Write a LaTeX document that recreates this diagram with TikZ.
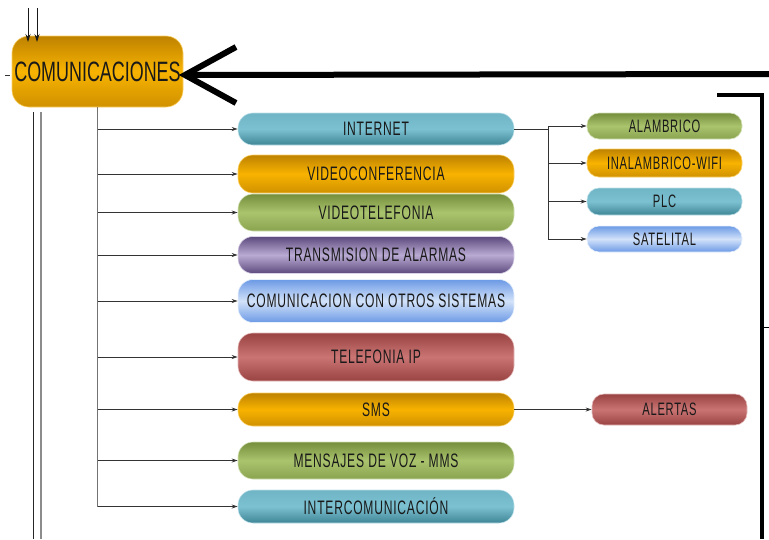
\documentclass[tikz,border=0pt]{standalone}
\usepackage{fontspec}
\newfontfamily\pillfont[FakeStretch=0.62, LetterSpace=4]{Liberation Sans}
\newfontfamily\topicfont[FakeStretch=0.64]{Liberation Sans}
\usetikzlibrary{arrows.meta}

% colour pairs: dark edge / light centre
\definecolor{goldD}{HTML}{BE8200}
\definecolor{goldL}{HTML}{F8B300}
\definecolor{tealD}{HTML}{3E8596}
\definecolor{tealL}{HTML}{7CC1D1}
\definecolor{greenD}{HTML}{748E3C}
\definecolor{greenL}{HTML}{AAC36D}
\definecolor{purpD}{HTML}{5E4A7E}
\definecolor{purpL}{HTML}{B9AAD3}
\definecolor{blueD}{HTML}{6C9AE6}
\definecolor{blueL}{HTML}{D2E2F9}
\definecolor{redD}{HTML}{9A4343}
\definecolor{redL}{HTML}{CA7474}

\tikzset{
  pill/.style={rounded corners=15pt, inner sep=0pt, text=black!90,
    font=\pillfont\fontsize{19.5}{20}\selectfont},
  mainpill/.style={pill, minimum width=276pt},
  subpill/.style={pill, minimum width=155pt, rounded corners=12pt,
    font=\pillfont\fontsize{18}{19}\selectfont},
  goldfill/.style={top color=goldD, bottom color=goldD!70!goldL, middle color=goldL, draw=goldL!60!white, line width=0.6pt},
  tealfill/.style={top color=tealL!80!tealD, bottom color=tealD, middle color=tealL, draw=tealL!50!white, line width=0.6pt},
  greenfill/.style={top color=greenD, bottom color=greenD!60!greenL, middle color=greenL, draw=greenL!50!white, line width=0.6pt},
  purpfill/.style={top color=purpD, bottom color=purpD, middle color=purpL, draw=purpL!50!white, line width=0.6pt},
  bluefill/.style={top color=blueD, bottom color=blueD, middle color=blueL, draw=blueL!50!white, line width=0.6pt},
  redfill/.style={top color=redD, bottom color=redD, middle color=redL, draw=redL!50!white, line width=0.6pt},
  link/.style={draw=black!80, line width=0.8pt},
  feed/.style={link, -{Stealth[length=6pt,width=4pt]}},
  trunkline/.style={draw=black!55, line width=1pt},
  heavy/.style={draw=black, line width=6pt},
}

\begin{document}
\begin{tikzpicture}[x=1pt, y=-1pt]
\useasboundingbox (0,0) rectangle (769,539);

% central topic
\node[pill, rounded corners=17pt, goldfill, minimum width=171pt, minimum height=71pt,
      font=\topicfont\fontsize{28}{30}\selectfont] (com) at (97.5,71.5) {COMUNICACIONES};

% services
\node[mainpill, tealfill,  minimum height=32pt] (int)   at (376,129)   {INTERNET};
\node[mainpill, goldfill,  minimum height=38pt] (vconf) at (376,174)   {VIDEOCONFERENCIA};
\node[mainpill, greenfill, minimum height=37pt] (vtel)  at (376,212.5) {VIDEOTELEFONIA};
\node[mainpill, purpfill,  minimum height=37pt] (alarm) at (376,255)   {TRANSMISION DE ALARMAS};
\node[mainpill, bluefill,  minimum height=43pt] (otros) at (376,301)   {COMUNICACION CON OTROS SISTEMAS};
\node[mainpill, redfill,   minimum height=48pt] (tip)   at (376,357)   {TELEFONIA IP};
\node[mainpill, goldfill,  minimum height=33pt] (sms)   at (376,409.5) {SMS};
\node[mainpill, greenfill, minimum height=37pt] (mms)   at (376,460.5) {MENSAJES DE VOZ - MMS};
\node[mainpill, tealfill,  minimum height=33pt] (icom)  at (376,506.5) {INTERCOMUNICACIÓN};

% internet access types
\node[subpill, greenfill, minimum height=26pt] (alam) at (664.5,126)   {ALAMBRICO};
\node[subpill, goldfill,  minimum height=28pt] (inal) at (664.5,163)   {INALAMBRICO-WIFI};
\node[subpill, tealfill,  minimum height=27pt] (plc)  at (664.5,201.5) {PLC};
\node[subpill, bluefill,  minimum height=26pt] (sat)  at (664.5,239)   {SATELITAL};

% sms follow-up
\node[subpill, redfill, minimum height=31pt] (alert) at (669.5,409.5) {ALERTAS};

% branch tree from the central topic
\draw[trunkline] (com.south) -- (com.south |- icom.west);
\foreach \n in {int,vconf,vtel,alarm,otros,tip,sms,mms,icom}
  \draw[feed] (com.south |- \n.west) -- (\n.west);

% internet split
\coordinate (isplit) at (548,129);
\draw[link] (int.east) -- (isplit);
\draw[link] (isplit |- alam.west) -- (isplit |- sat.west);
\foreach \n in {alam,inal,plc,sat}
  \draw[feed] (isplit |- \n.west) -- (\n.west);

% sms to alerts
\draw[feed] (sms.east) -- (alert.west);

% incoming arrows above the topic
\coordinate (inA) at (28,8);
\coordinate (inB) at (37,8);
\draw[link, draw=black!90, -{Stealth[length=8pt,width=5pt]}] (inA) -- (28,42);
\draw[link, draw=black!90, -{Stealth[length=8pt,width=5pt]}] (inB) -- (37,42);
\coordinate (stub) at (5,75);
\draw[link] (stub) -- (10,75);

% parallel lines running down the left edge
\draw[draw=black!85, line width=1pt] (33,112) -- (33,539);
\draw[draw=black!45, line width=1.5pt] (41,112) -- (41,539);

% heavy return arrow into the topic
\coordinate (retR) at (769,74);
\coordinate (retTip) at (185,75);
\draw[heavy] (retR) -- (retTip);
\draw[heavy, miter limit=10] (236,47) -- (retTip) -- (236,103);

% heavy bracket on the right
\coordinate (brA) at (717,95);
\coordinate (brB) at (762,95);
\coordinate (brC) at (762,539);
\draw[draw=black, line width=4pt] (brA) -- (brB) -- (brC);
\coordinate (rtick) at (764,327);
\draw[draw=black, line width=0.6pt] (rtick) -- (769,327);
\end{tikzpicture}
\end{document}
